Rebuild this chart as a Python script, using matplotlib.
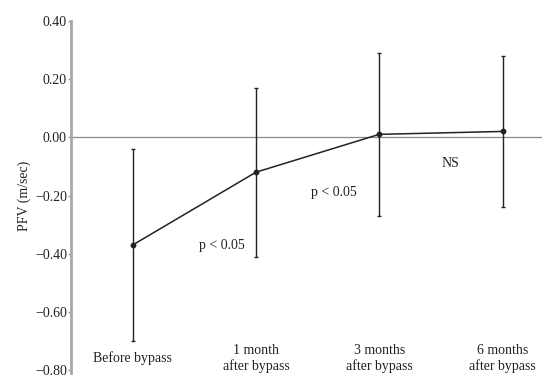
import matplotlib
matplotlib.use('Agg')
import matplotlib.pyplot as plt

# data
stages = ['Before bypass', '1 month\nafter bypass', '3 months\nafter bypass', '6 months\nafter bypass']
pfv_mean = [-0.37, -0.12, 0.01, 0.02]
pfv_upper = [-0.04, 0.17, 0.29, 0.28]
pfv_lower = [-0.70, -0.41, -0.27, -0.24]
yticks = [0.40, 0.20, 0.00, -0.20, -0.40, -0.60, -0.80]
notes = ['p < 0.05', 'p < 0.05', 'NS']

plt.rcParams['font.family'] = ['Liberation Serif', 'DejaVu Serif']
txt = '#222222'

fig = plt.figure(figsize=(5.42, 3.80), dpi=100)
ax = fig.add_axes([0.131, 0.018, 0.869, 0.935])

x = list(range(len(stages)))
err_lo = [m - lo for m, lo in zip(pfv_mean, pfv_lower)]
err_hi = [hi - m for m, hi in zip(pfv_mean, pfv_upper)]

ax.axhline(0, color='#8a8a8a', lw=0.9, zorder=1)
ax.errorbar(x, pfv_mean, yerr=[err_lo, err_hi], color='#222222', lw=1.1,
            elinewidth=1.0, capsize=1.5, capthick=1.0, marker='o', ms=3.2, zorder=3)

# stage labels sit inside the plot area, near the bottom
for i, lab in enumerate(stages):
    ax.text(i, -0.76, lab, ha='center', va='center', fontsize=10,
            color=txt, linespacing=1.25)

# significance notes between points
ax.text(0.72, -0.37, notes[0], ha='center', va='center', fontsize=10, color=txt)
ax.text(1.63, -0.19, notes[1], ha='center', va='center', fontsize=10, color=txt)
ax.text(2.58, -0.09, notes[2], ha='center', va='center', fontsize=10, color=txt)

ax.set_xlim(-0.5, 3.32)
ax.set_ylim(-0.81, 0.41)
ax.set_yticks(yticks)
ax.set_yticklabels([f'{v:.2f}'.replace('-', '\u2212') for v in yticks], fontsize=10, color=txt)
ax.tick_params(axis='y', length=2, width=1, color='#999999', pad=1)
ax.set_xticks([])
for s in ['top', 'right', 'bottom']:
    ax.spines[s].set_visible(False)
ax.spines['left'].set_color('#a8a8a8')
ax.spines['left'].set_linewidth(2)
ax.spines['left'].set_bounds(-0.81, 0.40)
ax.set_ylabel('PFV (m/sec)', fontsize=10, color=txt, labelpad=3)

fig.savefig('out.png', dpi=100)
